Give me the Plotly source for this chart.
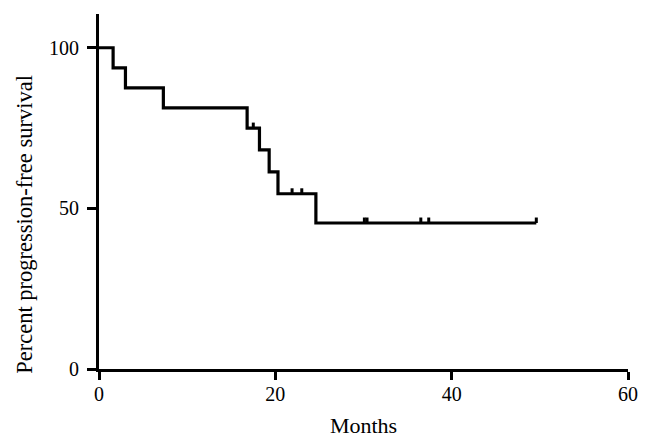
import plotly.graph_objects as go

# Kaplan-Meier step data (months, percent)
step_months = [0, 1.6, 3.0, 7.3, 16.8, 18.2, 19.3, 20.3, 24.6, 49.6]
step_survival = [100, 93.75, 87.5, 81.25, 75.0, 68.18, 61.36, 54.55, 45.45, 45.45]

# Censored observations
censor_months = [17.5, 21.9, 23.0, 30.1, 30.4, 36.5, 37.4, 49.6]
censor_survival = [75.0, 54.55, 54.55, 45.45, 45.45, 45.45, 45.45, 45.45]

x_ticks = [0, 20, 40, 60]
y_ticks = [0, 50, 100]

FONT = "Liberation Serif"
TICK_UP = 1.7  # censor tick height in data units

fig = go.Figure()
fig.add_trace(go.Scatter(
    x=step_months, y=step_survival, mode="lines",
    line=dict(shape="hv", color="black", width=3.2),
    cliponaxis=False, showlegend=False, hoverinfo="skip",
))
fig.add_trace(go.Scatter(
    x=censor_months, y=censor_survival, mode="markers",
    marker=dict(size=1, color="black", opacity=0),
    error_y=dict(type="data", symmetric=False,
                 array=[TICK_UP] * len(censor_months),
                 arrayminus=[0] * len(censor_months),
                 width=0, thickness=3, color="black"),
    cliponaxis=False, showlegend=False, hoverinfo="skip",
))

fig.update_layout(
    width=645, height=437,
    margin=dict(l=91, r=24.5, t=6, b=76),
    paper_bgcolor="white", plot_bgcolor="white",
    font=dict(family=FONT, size=20, color="black"),
    xaxis=dict(
        range=[0, 60], tickvals=x_ticks, showgrid=False, zeroline=False,
        showline=True, linewidth=3, linecolor="black",
        ticks="outside", ticklen=8, tickwidth=3, tickcolor="black",
        ticklabelstandoff=-3,
        title=dict(text="Months", font=dict(size=22), standoff=14),
    ),
    yaxis=dict(
        range=[0, 110.5], tickvals=y_ticks, showgrid=False, zeroline=False,
        showline=True, linewidth=3, linecolor="black",
        ticks="outside", ticklen=9, tickwidth=3, tickcolor="black",
        ticklabelstandoff=4,
    ),
    annotations=[dict(
        text="Percent progression-free survival", textangle=-90,
        xref="paper", yref="paper", x=-0.1407, y=0.408,
        xanchor="center", yanchor="middle", showarrow=False,
        font=dict(size=22.5, family=FONT),
    )],
)

fig.write_html("out.html")
